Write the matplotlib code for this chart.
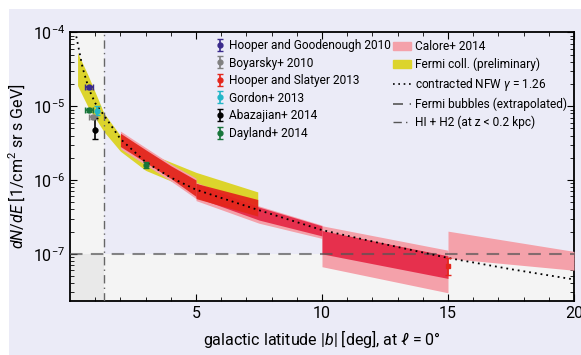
import numpy as np
import matplotlib.pyplot as plt
from matplotlib.patches import Rectangle, Patch
from matplotlib.lines import Line2D

plt.rcParams['font.family'] = ['Roboto', 'DejaVu Sans']
plt.rcParams['mathtext.fontset'] = 'custom'
plt.rcParams['mathtext.rm'] = 'Roboto'
plt.rcParams['mathtext.it'] = 'Roboto:italic'

########## data ##########

# Fermi coll. (preliminary) band
fermi_b = [0.3, 0.7, 1.35, 2.0, 3.0, 5.0, 7.45]
fermi_hi = [5.3e-5, 2.7e-5, 8.0e-6, 4.0e-6, 2.4e-6, 1.27e-6, 6.9e-7]
fermi_lo = [1.9e-5, 1.0e-5, 4.5e-6, 2.45e-6, 1.35e-6, 7.0e-7, 4.2e-7]

# Calore+ 2014, systematic (outer) band, per latitude bin
calore_b = [[2, 3, 4, 5], [5, 7.5, 10], [10, 15], [15, 20]]
calore_hi = [[4.6e-6, 2.75e-6, 1.65e-6, 1.06e-6], [9.3e-7, 4.45e-7, 2.45e-7],
             [2.40e-7, 1.12e-7], [2.03e-7, 1.08e-7]]
calore_lo = [[2.65e-6, 1.6e-6, 9.7e-7, 5.6e-7], [5.26e-7, 2.6e-7, 1.62e-7],
             [6.7e-8, 2.97e-8], [8.7e-8, 6.0e-8]]
# Calore+ 2014, inner band
calore_in_b = [[5, 7.5, 10], [10, 15]]
calore_in_hi = [[9.0e-7, 4.3e-7, 2.39e-7], [2.07e-7, 9.4e-8]]
calore_in_lo = [[5.83e-7, 2.87e-7, 1.75e-7], [1.0e-7, 4.65e-8]]

# Hooper and Slatyer 2013 band
hs_b = [[2, 3, 4, 5], [5, 7.45]]
hs_hi = [[4.3e-6, 2.57e-6, 1.56e-6, 1.0e-6], [9.0e-7, 5.45e-7]]
hs_lo = [[2.84e-6, 1.73e-6, 1.05e-6, 6.0e-7], [5.6e-7, 3.25e-7]]
hs_pt_b, hs_pt, hs_pt_lo, hs_pt_hi = 15.0, 6.9e-8, 5.1e-8, 8.7e-8

# contracted NFW gamma = 1.26
nfw_b = [0.25, 0.5, 0.75, 1.0, 1.35, 2, 3, 4, 5, 7.5, 10, 12.5, 15, 17.5, 20]
nfw = [8.8e-5, 3.3e-5, 1.7e-5, 1.1e-5, 7.5e-6, 3.6e-6, 1.75e-6, 1.08e-6,
       7.4e-7, 3.9e-7, 2.1e-7, 1.35e-7, 8.8e-8, 6.2e-8, 4.5e-8]

fermi_bubbles = 1e-7
hi_h2_b = 1.35

# individual measurements: b, value, b err, value low, value high
points = [
    ('Hooper and Goodenough 2010', '#3a2a8c', [0.77], [1.8e-5], [0.16], [1.7e-5], [1.9e-5]),
    ('Boyarsky+ 2010', '#808080', [0.905], [7.1e-6], [0.16], [6.7e-6], [7.5e-6]),
    ('Hooper and Slatyer 2013', '#e4261c', [], [], [], [], []),
    ('Gordon+ 2013', '#22b6c8', [1.08], [8.6e-6], [0.0], [7.7e-6], [1.0e-5]),
    ('Abazajian+ 2014', '#000000', [1.0], [4.8e-6], [0.0], [3.6e-6], [6.9e-6]),
    ('Dayland+ 2014', '#17753a', [0.77, 3.0], [8.9e-6, 1.6e-6], [0.16, 0.0],
     [8.4e-6, 1.45e-6], [9.4e-6, 1.75e-6]),
]

########## colours ##########
bg = '#ebebf7'
grey = '#f4f4f4'
yellow = '#dcd42c'
pink = '#f4a1aa'
crimson = '#e6304d'
red = '#e4261c'

fig = plt.figure(figsize=(5.81, 3.55), dpi=100)
fig.patches.append(Rectangle((9 / 581, 0), 1, 1 - 9 / 355, transform=fig.transFigure,
                             facecolor=bg, edgecolor='none', zorder=-10))
ax = fig.add_axes([70 / 581, 1 - 301 / 355, 504 / 581, 268.7 / 355])
ax.set_facecolor(bg)
ax.set_yscale('log')
ax.set_xlim(0, 20)
ax.set_ylim(2.3e-8, 1e-4)

# shaded regions
ax.axvspan(0, hi_h2_b, color=grey, lw=0, zorder=0)
ax.axhspan(2.3e-8, fermi_bubbles, color=grey, lw=0, zorder=0)
ax.fill_between([0, hi_h2_b], 2.3e-8, fermi_bubbles, color='#e9e9e9', lw=0, zorder=0)

ax.fill_between(fermi_b, fermi_lo, fermi_hi, color=yellow, lw=0, zorder=2)
for b, lo, hi in zip(calore_b, calore_lo, calore_hi):
    ax.fill_between(b, lo, hi, color=pink, lw=0, zorder=3)
for b, lo, hi in zip(calore_in_b, calore_in_lo, calore_in_hi):
    ax.fill_between(b, lo, hi, color=crimson, lw=0, zorder=4)
for b, lo, hi in zip(hs_b, hs_lo, hs_hi):
    ax.fill_between(b, lo, hi, color=red, lw=0, alpha=0.95, zorder=5)

ax.axhline(fermi_bubbles, color='#555555', lw=1.5, ls=(0, (6, 4)), alpha=0.7, zorder=6)
ax.axvline(hi_h2_b, color='#666666', lw=1.0, ls=(0, (6, 3, 1, 3)), zorder=6)
ax.plot(nfw_b, nfw, color='black', lw=1.3, ls=(0, (1, 2.2)), zorder=7)

handles = []
for name, c, b, v, be, vlo, vhi in points:
    if len(v):
        v = np.array(v)
        ax.errorbar(b, v, xerr=be, yerr=[v - np.array(vlo), np.array(vhi) - v], fmt='o',
                    ms=3.5, color=c, ecolor=c, elinewidth=1.2, capsize=2.5, zorder=8)
    # legend proxy: vertical bar only
    h = ax.errorbar([np.nan], [np.nan], yerr=[1], fmt='o', ms=3.5, color=c,
                    elinewidth=1.2, capsize=2.5)
    handles.append(h)
ax.errorbar([hs_pt_b], [hs_pt], yerr=[[hs_pt - hs_pt_lo], [hs_pt_hi - hs_pt]], fmt='s',
            ms=3, color=red, elinewidth=1.2, capsize=2.5, zorder=8)

leg1 = ax.legend(handles, [p[0] for p in points], loc='upper left',
                 bbox_to_anchor=(0.288, 0.975), frameon=False, fontsize=8.6,
                 handlelength=0.8, handletextpad=0.4, labelspacing=0.38,
                 borderpad=0, borderaxespad=0)
ax.add_artist(leg1)

h2 = [Patch(color=pink), Patch(color=yellow),
      Line2D([], [], color='black', lw=1.2, ls=(0, (1, 2.2))),
      Line2D([], [], color='#555555', lw=1.2, ls=(0, (6, 4))),
      Line2D([], [], color='#555555', lw=1.0, ls=(0, (6, 3, 1, 3)))]
l2 = ['Calore+ 2014', 'Fermi coll. (preliminary)', r'contracted NFW $\gamma$ = 1.26',
      'Fermi bubbles (extrapolated)', 'HI + H2 (at z < 0.2 kpc)']
ax.legend(h2, l2, loc='upper left', bbox_to_anchor=(0.641, 0.97), frameon=False,
          fontsize=8.6, handlelength=1.5, handletextpad=0.35, labelspacing=0.38,
          borderpad=0, borderaxespad=0)

ax.text(1.65, 0.91, 'GeV excess\nemission at\n$E$ = 2 GeV', transform=ax.get_yaxis_transform(),
        va='top', ha='left', fontsize=9.5, linespacing=1.3, zorder=9)

ax.set_xticks([5, 10, 15, 20])
ax.set_xticks(range(1, 20), minor=True)
ax.tick_params(which='both', direction='in', top=True, right=True, labelsize=11.5)
ax.tick_params(which='major', length=5)
ax.tick_params(which='minor', length=3)
for s in ax.spines.values():
    s.set_linewidth(1.3)

ax.set_xlabel(r'galactic latitude $|b|$ [deg], at $\ell$ = 0°', fontsize=11.5, labelpad=5)
ax.set_ylabel(r'$dN/dE$ [1/cm$^2$ sr s GeV]', fontsize=11.5, labelpad=4)

fig.savefig('out.png', dpi=100)
